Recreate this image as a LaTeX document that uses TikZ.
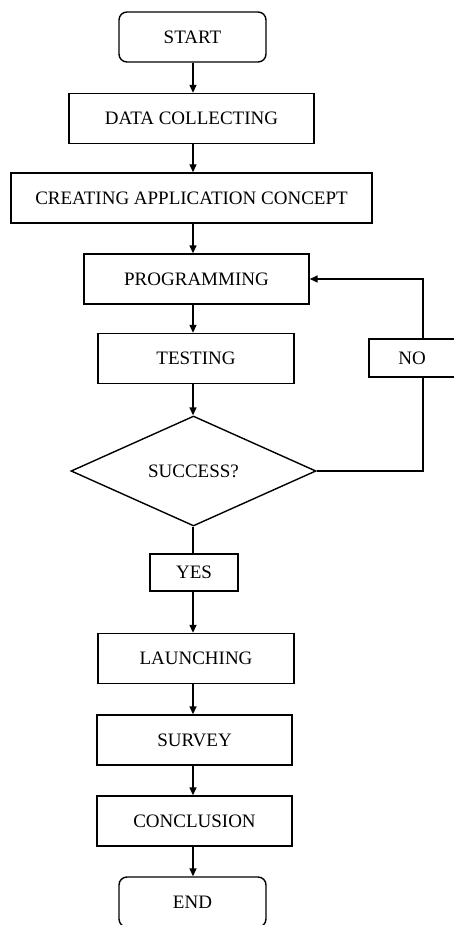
\documentclass[tikz,border=0pt]{standalone}
\usepackage{fontspec}
\setmainfont{Liberation Serif}
\usetikzlibrary{shapes.geometric,arrows.meta}

\begin{document}
\begin{tikzpicture}[
    x=1pt, y=-1pt,
    procbox/.style={draw, rectangle, line width=1.4pt, minimum height=50pt, inner sep=0pt},
    termbox/.style={procbox, rounded corners=8pt},
    decbox/.style={draw, diamond, aspect=2.2, line width=1.4pt, inner sep=0pt},
    arr/.style={-{Triangle[length=8pt,width=7pt]}, line width=1.4pt},
    font=\fontsize{19}{22}\selectfont
]
    \useasboundingbox (0,0) rectangle (454,925);
    \coordinate (mid) at (193,0);
    % main column
    \node[termbox, minimum width=147pt] (start) at (192.5,37) {START};
    \node[procbox, minimum width=245pt] (data) at (191.5,118.5) {DATA COLLECTING};
    \node[procbox, minimum width=361pt] (concept) at (191.5,198) {CREATING APPLICATION CONCEPT};
    \node[procbox, minimum width=225pt] (prog) at (196.5,279) {PROGRAMMING};
    \node[procbox, minimum width=196pt] (test) at (196,358.5) {TESTING};
    \node[decbox, minimum width=245pt, minimum height=110pt] (success) at (193.5,471) {SUCCESS?};
    \node[procbox, minimum width=88pt, minimum height=37pt] (yes) at (194,572.5) {YES};
    \node[procbox, minimum width=86pt, minimum height=38pt] (no) at (412,358) {NO};
    \node[procbox, minimum width=196pt] (launch) at (196,658.5) {LAUNCHING};
    \node[procbox, minimum width=195pt] (survey) at (194.5,740) {SURVEY};
    \node[procbox, minimum width=195pt] (concl) at (194.5,821) {CONCLUSION};
    \node[termbox, minimum width=147pt] (finish) at (192.5,902) {END};
    % connectors
    \foreach \a/\b in {start/data, data/concept, concept/prog, prog/test, test/success, yes/launch, launch/survey, survey/concl, concl/finish}
        \draw[arr] (\a.south -| mid) -- (\b.north -| mid);
    \draw[line width=1.4pt] (success.south -| mid) -- (yes.north -| mid);
    \draw[line width=1.4pt] (success.east) -| (no.south -| 423,0);
    \draw[arr] (no.north -| 423,0) |- (prog.east);
\end{tikzpicture}
\end{document}
